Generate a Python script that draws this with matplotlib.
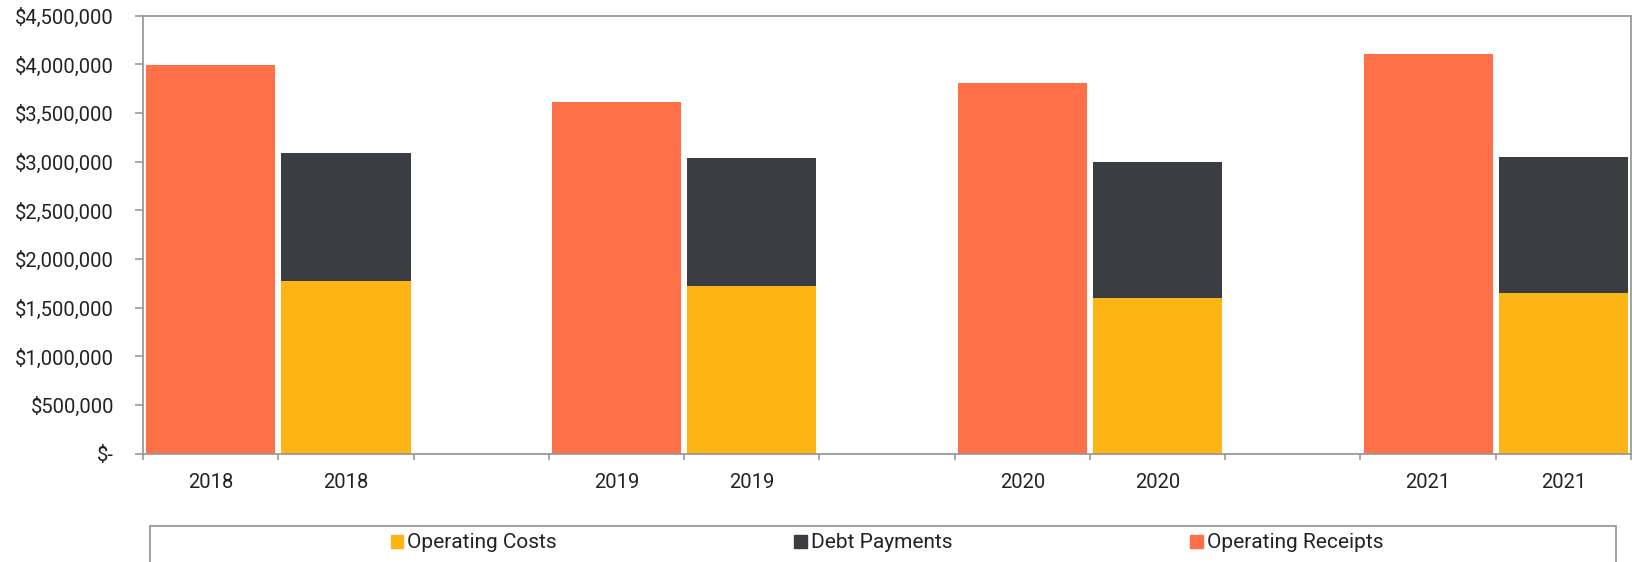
import matplotlib
matplotlib.use("Agg")
import matplotlib.pyplot as plt
from matplotlib.patches import Rectangle, Patch
from matplotlib.ticker import FuncFormatter, FixedLocator
import numpy as np

plt.rcParams['font.family'] = ['Roboto', 'DejaVu Sans']

years = ["2018", "2019", "2020", "2021"]
operating_receipts = [3995000, 3615000, 3810000, 4110000]
operating_costs = [1780000, 1728000, 1600000, 1647000]
debt_payments = [1306000, 1309000, 1402000, 1402000]

c_receipts = "#FF7049"
c_costs = "#FDB515"
c_debt = "#3A3E42"
c_spine = "#9a9a9a"
c_text = "#222222"

# category layout: receipts, costs+debt, blank per year (last year no blank)
labels = []
rec_x, stk_x = [], []
pos = 0
for i, y in enumerate(years):
    rec_x.append(pos); labels.append(y); pos += 1
    stk_x.append(pos); labels.append(y); pos += 1
    if i < len(years) - 1:
        labels.append(""); pos += 1
ncat = pos

fig = plt.figure(figsize=(16.32, 5.62), dpi=100)
ax = fig.add_axes([143.1/1632, 1-453.8/562, (1631-143.1)/1632, (453.8-15.8)/562])

w = 0.955
ax.bar(rec_x, operating_receipts, width=w, color=c_receipts, zorder=2)
ax.bar(stk_x, operating_costs, width=w, color=c_costs, zorder=2)
ax.bar(stk_x, debt_payments, width=w, bottom=operating_costs, color=c_debt, zorder=2)

ax.set_xlim(-0.5, ncat - 0.5)
ax.set_ylim(0, 4500000)
ax.set_yticks(np.arange(0, 4500001, 500000))

def fmt(v, p):
    if v == 0:
        return "$-"
    return "${:,.0f}".format(v)
ax.yaxis.set_major_formatter(FuncFormatter(fmt))

ax.set_xticks(range(ncat))
ax.set_xticklabels(labels)
ax.xaxis.set_minor_locator(FixedLocator(np.arange(-0.5, ncat, 1.0)))
ax.tick_params(axis='x', which='major', length=0, pad=14, labelsize=14.5, labelcolor=c_text)
ax.tick_params(axis='x', which='minor', length=4.5, width=1.2, color=c_spine, direction='out')
ax.tick_params(axis='y', length=6, width=1.2, color=c_spine, pad=15, labelsize=14.5, labelcolor=c_text)

for s in ax.spines.values():
    s.set_color(c_spine)
    s.set_linewidth(1.3)

# legend
handles = [Patch(color=c_costs, label="Operating Costs"),
           Patch(color=c_debt, label="Debt Payments"),
           Patch(color=c_receipts, label="Operating Receipts")]
fig.legend(handles=handles, loc="center", bbox_to_anchor=(887/1632, 1-543/562),
           ncol=3, frameon=False, fontsize=15, handlelength=0.6, handleheight=0.6,
           handletextpad=0.2, columnspacing=11.4, labelcolor=c_text)
fig.patches.append(Rectangle((149.5/1632, -10/562), (1616-149.5)/1632, (562-525.7+10)/562,
                             transform=fig.transFigure, fill=False, edgecolor=c_spine,
                             linewidth=1.3))

fig.savefig("out.png", dpi=100)
